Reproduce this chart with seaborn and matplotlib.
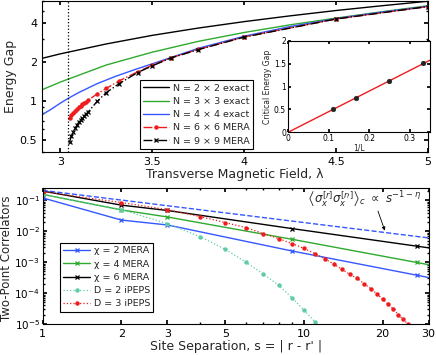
import numpy as np
import pandas as pd
import matplotlib
matplotlib.use("Agg")
import matplotlib.pyplot as plt
from matplotlib.ticker import FixedLocator, FixedFormatter, NullFormatter, LogLocator
import seaborn as sns

# ---------------- data: top panel ----------------
lam_2x2 = [2.9, 3.0, 3.25, 3.5, 3.75, 4.0, 4.25, 4.5, 4.75, 5.0]
gap_2x2 = [2.14, 2.32, 2.77, 3.23, 3.68, 4.13, 4.58, 5.04, 5.49, 5.95]
lam_3x3 = [2.9, 3.0, 3.25, 3.5, 3.75, 4.0, 4.25, 4.5, 4.75, 5.0]
gap_3x3 = [1.22, 1.40, 1.90, 2.39, 2.90, 3.40, 3.90, 4.40, 4.93, 5.49]
lam_4x4 = [2.9, 2.95, 3.0, 3.05, 3.1, 3.2, 3.3, 3.4, 3.5, 3.75, 4.0, 4.25, 4.5, 4.75, 5.0]
gap_4x4 = [0.78, 0.86, 0.96, 1.06, 1.16, 1.36, 1.55, 1.74, 1.94, 2.56, 3.18, 3.78, 4.36, 4.90, 5.43]
lam_mera = [3.05, 3.06, 3.07, 3.08, 3.09, 3.10, 3.11, 3.12, 3.13, 3.14, 3.15,
            3.2, 3.25, 3.32, 3.42, 3.5, 3.6, 3.75, 4.0, 4.5, 5.0]
gap_6x6 = [0.74, 0.77, 0.80, 0.83, 0.86, 0.89, 0.915, 0.94, 0.965, 0.985, 1.01,
           1.13, 1.25, 1.43, 1.68, 1.89, 2.16, 2.51, 3.14, 4.33, 5.41]
gap_9x9 = [0.48, 0.53, 0.57, 0.61, 0.645, 0.68, 0.71, 0.74, 0.765, 0.79, 0.815,
           0.99, 1.16, 1.36, 1.66, 1.87, 2.15, 2.50, 3.13, 4.33, 5.41]
lambda_c = 3.044

# inset
inv_L = [1/9, 1/6, 1/4, 1/3]
crit_gap = [0.50, 0.74, 1.12, 1.51]
fit_x = [0.0, 0.35]
fit_y = [0.0, 1.575]

# ---------------- data: bottom panel ----------------
s_mera = [1, 2, 3, 9, 27, 81]
c_chi2 = [0.12, 0.023, 0.016, 0.0023, 3.8e-4, 6e-5]
c_chi4 = [0.156, 0.049, 0.029, 0.0055, 9.8e-4, 1.7e-4]
c_chi6 = [0.20, 0.070, 0.047, 0.0122, 0.0033, 9e-4]
s_d2 = [1, 2, 3, 4, 5, 6, 7, 8, 9, 10, 11, 12]
c_d2 = [0.155, 0.050, 0.0177, 0.0067, 0.0026, 1.0e-3, 4.1e-4, 1.8e-4, 7.1e-5, 2.8e-5, 1.2e-5, 5e-6]
s_d3 = list(range(1, 27))
c_d3 = [0.19, 0.085, 0.050, 0.030, 0.0191, 0.0131, 0.0084, 0.0058, 0.0040, 0.0028,
        0.0019, 0.0013, 8.7e-4, 5.8e-4, 4.0e-4, 3.0e-4, 2.0e-4, 1.4e-4, 9.5e-5, 6.4e-5,
        4.4e-5, 3.0e-5, 2.0e-5, 1.4e-5, 1.0e-5, 7e-6]
pl_s = [1, 30]
pl_c = [0.21, 0.0061]

# ---------------- style ----------------
sns.set_theme(style="ticks")
plt.rcParams['font.family'] = ['DejaVu Sans']
plt.rcParams.update({
    'xtick.direction': 'in', 'ytick.direction': 'in',
    'xtick.top': True, 'ytick.right': True,
    'xtick.minor.top': True, 'ytick.minor.right': True,
    'axes.linewidth': 0.8, 'axes.edgecolor': 'black',
    'xtick.color': 'black', 'ytick.color': 'black',
    'xtick.major.size': 3, 'ytick.major.size': 3,
    'xtick.minor.size': 1.6, 'ytick.minor.size': 1.6,
    'mathtext.fontset': 'dejavusans',
})

GREEN = '#2eaa2e'
BLUE = '#3557ff'
RED = '#ee1c1c'
TEAL = '#5fcca6'

fig = plt.figure(figsize=(4.36, 3.55), dpi=100)
ax1 = fig.add_axes([0.0963, 0.5718, 0.885, 0.426])
ax2 = fig.add_axes([0.098, 0.0873, 0.885, 0.383])
axi = fig.add_axes([0.6606, 0.6273, 0.3257, 0.258])

def line(ax, x, y, label, color, ls='-', marker=None, ms=4, lw=1.0, mew=1.0):
    df = pd.DataFrame({'x': x, 'y': y})
    kw = dict(color=color, linestyle=ls, linewidth=lw)
    if marker:
        kw.update(marker=marker, markersize=ms, markeredgewidth=mew,
                  markeredgecolor=color, markerfacecolor=color)
    sns.lineplot(data=df, x='x', y='y', ax=ax, sort=False, estimator=None,
                 label=label, **kw)

legkw = dict(fontsize=6.8, frameon=True, fancybox=False, edgecolor='black',
             framealpha=1, handlelength=2.8, borderpad=0.35, labelspacing=0.45,
             handletextpad=0.4, borderaxespad=0)

# ---- top panel ----
ax1.set_yscale('log')
line(ax1, lam_2x2, gap_2x2, 'N = 2 × 2 exact', 'black')
line(ax1, lam_3x3, gap_3x3, 'N = 3 × 3 exact', GREEN)
line(ax1, lam_4x4, gap_4x4, 'N = 4 × 4 exact', BLUE)
line(ax1, lam_mera, gap_6x6, 'N = 6 × 6 MERA', RED, ls='-.', marker='o', ms=2.2)
line(ax1, lam_mera, gap_9x9, 'N = 9 × 9 MERA', 'black', ls='-.', marker='x', ms=3.3, mew=0.9)
ax1.axvline(lambda_c, color='black', linestyle=':', linewidth=0.9)
ax1.set_xlim(2.9, 5)
ax1.set_ylim(0.4, 6.0)
ax1.xaxis.set_major_locator(FixedLocator([3, 3.5, 4, 4.5, 5]))
ax1.xaxis.set_major_formatter(FixedFormatter(['3', '3.5', '4', '4.5', '5']))
ax1.yaxis.set_major_locator(FixedLocator([0.5, 1, 2, 4]))
ax1.yaxis.set_major_formatter(FixedFormatter(['0.5', '1', '2', '4']))
ax1.yaxis.set_minor_locator(LogLocator(base=10, subs=(2, 3, 4, 5, 6, 7, 8, 9)))
ax1.yaxis.set_minor_formatter(NullFormatter())
ax1.tick_params(labelsize=8)
ax1.set_xlabel('Transverse Magnetic Field, λ', fontsize=9, labelpad=1)
ax1.set_ylabel('Energy Gap', fontsize=9)
ax1.yaxis.set_label_coords(-0.065, 0.5)
leg1 = ax1.legend(loc='lower left', bbox_to_anchor=(0.253, 0.02), **legkw)
leg1.get_frame().set_linewidth(0.8)

# ---- inset ----
line(axi, fit_x, fit_y, None, RED, lw=1.0)
sns.scatterplot(x=inv_L, y=crit_gap, ax=axi, color='#222222', s=12, marker='o',
                edgecolor='#222222', zorder=3)
axi.set_xlim(0, 0.35)
axi.set_ylim(0, 2)
axi.set_xticks([0, 0.1, 0.2, 0.3])
axi.set_xticklabels(['0', '0.1', '0.2', '0.3'])
axi.set_yticks([0, 0.5, 1, 1.5, 2])
axi.set_yticklabels(['0', '0.5', '1', '1.5', '2'])
axi.tick_params(labelsize=5.5, pad=1.5, length=2)
axi.set_xlabel('1/L', fontsize=5.5, labelpad=0)
axi.set_ylabel('Critical Energy Gap', fontsize=5.5, labelpad=1)
axi.set_facecolor('white')
if axi.get_legend():
    axi.get_legend().remove()

# ---- bottom panel ----
ax2.set_xscale('log')
ax2.set_yscale('log')
line(ax2, s_mera, c_chi2, 'χ = 2 MERA', BLUE, marker='x', ms=3.5, mew=0.9)
line(ax2, s_mera, c_chi4, 'χ = 4 MERA', GREEN, marker='x', ms=3.5, mew=0.9)
line(ax2, s_mera, c_chi6, 'χ = 6 MERA', 'black', marker='x', ms=3.5, mew=0.9)
line(ax2, s_d2, c_d2, 'D = 2 iPEPS', TEAL, ls=':', marker='o', ms=2.2, lw=0.9)
line(ax2, s_d3, c_d3, 'D = 3 iPEPS', RED, ls=':', marker='o', ms=2.2, lw=0.9)
line(ax2, pl_s, pl_c, None, BLUE, ls='--', lw=1.0)
ax2.set_xlim(1, 30)
ax2.set_ylim(1e-5, 0.25)
ax2.xaxis.set_major_locator(FixedLocator([1, 2, 3, 5, 10, 20, 30]))
ax2.xaxis.set_major_formatter(FixedFormatter(['1', '2', '3', '5', '10', '20', '30']))
ax2.xaxis.set_minor_locator(FixedLocator([4, 6, 7, 8, 9]))
ax2.xaxis.set_minor_formatter(NullFormatter())
ax2.yaxis.set_major_locator(LogLocator(base=10, numticks=10))
ax2.yaxis.set_minor_locator(LogLocator(base=10, subs=(2, 3, 4, 5, 6, 7, 8, 9), numticks=10))
ax2.yaxis.set_minor_formatter(NullFormatter())
ax2.tick_params(axis='x', labelsize=8)
ax2.tick_params(axis='y', labelsize=7.5, pad=2)
ax2.set_xlabel("Site Separation, s = | r - r' |", fontsize=9, labelpad=1)
ax2.set_ylabel('Two-Point Correlators', fontsize=8.5)
ax2.yaxis.set_label_coords(-0.077, 0.48)
handles, labels = ax2.get_legend_handles_labels()
keep = [(h, l) for h, l in zip(handles, labels) if l and not l.startswith('_')]
leg2 = ax2.legend([h for h, _ in keep], [l for _, l in keep], loc='lower left',
                  bbox_to_anchor=(0.045, 0.09), **legkw)
leg2.get_frame().set_linewidth(0.8)
ax2.text(0.685, 0.915,
         r'$\left\langle\sigma_x^{[r]}\sigma_x^{[r\prime]}\right\rangle_c\ \propto\ s^{-1-\eta}$',
         transform=ax2.transAxes, fontsize=8.5, ha='left', va='center')
ax2.annotate('', xy=(20.4, 0.0105), xytext=(19.2, 0.045),
             arrowprops=dict(arrowstyle='-|>', color='black', lw=0.6,
                             mutation_scale=5, shrinkA=0, shrinkB=0))

for a in (ax1, ax2, axi):
    for sp in a.spines.values():
        sp.set_visible(True)
        sp.set_color('black')

fig.savefig('out.png', dpi=100)
